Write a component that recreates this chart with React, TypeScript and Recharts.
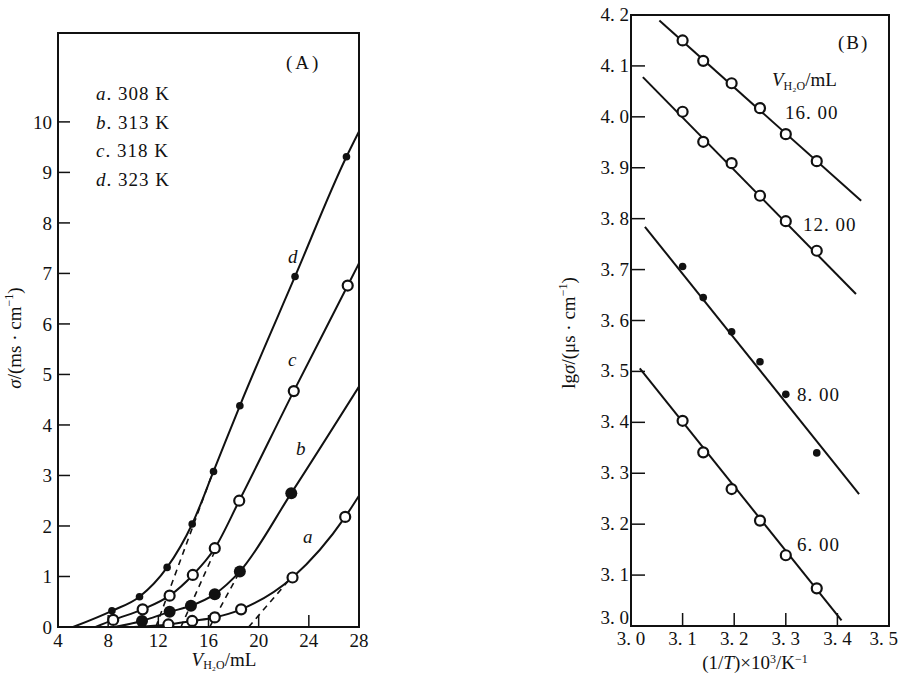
import React from 'react';
import { ComposedChart, Line, Scatter, XAxis, YAxis, ReferenceArea } from 'recharts';

const SERIF = '"Liberation Serif", "DejaVu Serif", serif';
const INK = '#111';

// ---- Panel A: sigma vs V(H2O) at four temperatures ----
const volTicks = [4, 8, 12, 16, 20, 24, 28];
const sigmaTicks = [0, 1, 2, 3, 4, 5, 6, 7, 8, 9, 10];

const aVol = [12.8, 14.7, 16.5, 18.6, 22.7, 26.9];
const aSigma = [0.05, 0.12, 0.19, 0.35, 0.98, 2.18];
const bVol = [10.7, 12.9, 14.6, 16.5, 18.5, 22.6];
const bSigma = [0.12, 0.3, 0.42, 0.65, 1.1, 2.65];
const cVol = [8.4, 10.75, 12.9, 14.75, 16.5, 18.45, 22.8, 27.1];
const cSigma = [0.14, 0.35, 0.62, 1.03, 1.56, 2.5, 4.67, 6.76];
const dVol = [8.3, 10.5, 12.7, 14.7, 16.4, 18.5, 22.9, 27.0];
const dSigma = [0.32, 0.6, 1.18, 2.04, 3.08, 4.38, 6.94, 9.31];

// where each smooth curve leaves the axis and where it meets the right frame
const curveStart = { a: [10.0, 0], b: [8.5, 0], c: [7.0, 0], d: [5.2, 0] };
const curveEnd = { a: [28, 2.6], b: [28, 4.76], c: [28, 7.2], d: [28, 9.81] };

// dashed extrapolations of the linear parts
const tanA = { x: [19.2, 22.5], y: [0, 0.95] };
const tanB = { x: [16.1, 18.5], y: [0, 1.1] };
const tanC = { x: [13.8, 16.5], y: [0, 1.5] };
const tanD = { x: [11.8, 16.4], y: [0, 3.1] };

// ---- Panel B: lg sigma vs 1/T ----
const invTTicks = [3.0, 3.1, 3.2, 3.3, 3.4, 3.5];
const lgTicks = [3.0, 3.1, 3.2, 3.3, 3.4, 3.5, 3.6, 3.7, 3.8, 3.9, 4.0, 4.1, 4.2];

const invT = [3.1, 3.14, 3.195, 3.25, 3.3, 3.36];
const lg16 = [4.15, 4.11, 4.066, 4.017, 3.966, 3.913];
const lg12 = [4.01, 3.951, 3.909, 3.845, 3.795, 3.737];
const lg8 = [3.706, 3.645, 3.578, 3.519, 3.455, 3.34];
const lg6 = [3.403, 3.341, 3.269, 3.207, 3.139, 3.074];

const fit16 = { x: [3.055, 3.446], y: [4.189, 3.835] };
const fit12 = { x: [3.023, 3.436], y: [4.078, 3.652] };
const fit8 = { x: [3.027, 3.442], y: [3.784, 3.259] };
const fit6 = { x: [3.017, 3.408], y: [3.506, 3.011] };

const legendRows = [
  ['a', '308 K'],
  ['b', '313 K'],
  ['c', '318 K'],
  ['d', '323 K'],
];

const pts = (xs: number[], ys: number[]) => xs.map((x, i) => ({ x, y: ys[i] }));
const curve = (xs: number[], ys: number[], start: number[], end: number[]) => [
  { x: start[0], y: start[1] },
  ...pts(xs, ys),
  { x: end[0], y: end[1] },
];

const openDot = (r: number) => (p: any) =>
  <circle cx={p.cx} cy={p.cy} r={r} fill="#fff" stroke={INK} strokeWidth={2.2} />;
const fullDot = (r: number) => (p: any) => <circle cx={p.cx} cy={p.cy} r={r} fill={INK} />;

const tickStyle = { fontFamily: SERIF, fontSize: 19, fill: INK };
const axisLine = { stroke: INK, strokeWidth: 2 };
const tickLine = { stroke: INK, strokeWidth: 1.5 };
const cnNum = (v: number, d: number) => v.toFixed(d).replace('.', '. ');

// y ticks of panel B; the bottom one sits a little higher, clear of the x labels
const LgTick = (p: any) => {
  const v = p.payload.value;
  return (
    <text x={p.x} y={p.y} dy={v <= 3.0 ? -2 : 6} textAnchor="end" fontFamily={SERIF} fontSize={19} fill={INK}>
      {cnNum(v, 1)}
    </text>
  );
};

const SigmaYLabel = () => (
  <text transform="translate(21,338) rotate(-90)" textAnchor="middle" fontFamily={SERIF} fontSize={19} fill={INK}>
    <tspan fontStyle="italic">σ</tspan>/(ms · cm<tspan dy={-8} fontSize={12}>−1</tspan>
    <tspan dy={8}>)</tspan>
  </text>
);

const VolXLabel = () => (
  <text x={224} y={666} textAnchor="middle" fontFamily={SERIF} fontSize={19} fill={INK}>
    <tspan fontStyle="italic">V</tspan>
    <tspan fontSize={12} dy={3}>H₂O</tspan>
    <tspan dy={-3}>/mL</tspan>
  </text>
);

const LgYLabel = () => (
  <text transform="translate(95,333) rotate(-90)" textAnchor="middle" fontFamily={SERIF} fontSize={19} fill={INK}>
    lg<tspan fontStyle="italic">σ</tspan>/(μs · cm<tspan dy={-8} fontSize={12}>−1</tspan>
    <tspan dy={8}>)</tspan>
  </text>
);

const InvTXLabel = () => (
  <text x={275} y={669} textAnchor="middle" fontFamily={SERIF} fontSize={19} fill={INK}>
    (1/<tspan fontStyle="italic">T</tspan>)×10<tspan dy={-6} fontSize={12}>3</tspan>
    <tspan dy={6}>/K</tspan>
    <tspan dy={-6} fontSize={12}>−1</tspan>
  </text>
);

const note = (left: number, top: number, extra: React.CSSProperties = {}): React.CSSProperties => ({
  position: 'absolute',
  left,
  top,
  fontFamily: SERIF,
  fontSize: 19,
  color: INK,
  lineHeight: 1,
  whiteSpace: 'nowrap',
  ...extra,
});

function PanelA() {
  return (
    <ComposedChart width={380} height={675} margin={{ top: 33, right: 21, bottom: 0, left: 0 }}>
      <XAxis
        type="number"
        dataKey="x"
        domain={[4, 28]}
        ticks={volTicks}
        height={48}
        tickSize={-12}
        tickMargin={19}
        axisLine={axisLine}
        tickLine={tickLine}
        tick={tickStyle}
        allowDataOverflow
        label={{ content: VolXLabel }}
      />
      <YAxis
        type="number"
        dataKey="y"
        domain={[0, 11.76]}
        ticks={sigmaTicks}
        width={58}
        tickSize={-12}
        tickMargin={18}
        axisLine={axisLine}
        tickLine={tickLine}
        tick={tickStyle}
        allowDataOverflow
        label={{ content: SigmaYLabel }}
      />
      <ReferenceArea x1={4} x2={28} y1={0} y2={11.76} fill="none" stroke={INK} strokeWidth={2} ifOverflow="visible" />

      <Line data={pts(tanA.x, tanA.y)} dataKey="y" type="linear" stroke={INK} strokeWidth={1.6} strokeDasharray="6 5" dot={false} isAnimationActive={false} />
      <Line data={pts(tanB.x, tanB.y)} dataKey="y" type="linear" stroke={INK} strokeWidth={1.6} strokeDasharray="6 5" dot={false} isAnimationActive={false} />
      <Line data={pts(tanC.x, tanC.y)} dataKey="y" type="linear" stroke={INK} strokeWidth={1.6} strokeDasharray="6 5" dot={false} isAnimationActive={false} />
      <Line data={pts(tanD.x, tanD.y)} dataKey="y" type="linear" stroke={INK} strokeWidth={1.6} strokeDasharray="6 5" dot={false} isAnimationActive={false} />

      <Line data={curve(aVol, aSigma, curveStart.a, curveEnd.a)} dataKey="y" type="monotone" stroke={INK} strokeWidth={2} dot={false} isAnimationActive={false} />
      <Line data={curve(bVol, bSigma, curveStart.b, curveEnd.b)} dataKey="y" type="monotone" stroke={INK} strokeWidth={2} dot={false} isAnimationActive={false} />
      <Line data={curve(cVol, cSigma, curveStart.c, curveEnd.c)} dataKey="y" type="monotone" stroke={INK} strokeWidth={2} dot={false} isAnimationActive={false} />
      <Line data={curve(dVol, dSigma, curveStart.d, curveEnd.d)} dataKey="y" type="monotone" stroke={INK} strokeWidth={2} dot={false} isAnimationActive={false} />

      <Scatter data={pts(aVol, aSigma)} shape={openDot(5)} isAnimationActive={false} />
      <Scatter data={pts(bVol, bSigma)} shape={fullDot(6)} isAnimationActive={false} />
      <Scatter data={pts(cVol, cSigma)} shape={openDot(5)} isAnimationActive={false} />
      <Scatter data={pts(dVol, dSigma)} shape={fullDot(3.8)} isAnimationActive={false} />
    </ComposedChart>
  );
}

function PanelB() {
  return (
    <ComposedChart width={418} height={675} margin={{ top: 15, right: 9, bottom: 0, left: 0 }}>
      <XAxis
        type="number"
        dataKey="x"
        domain={[3.0, 3.5]}
        ticks={invTTicks}
        height={49}
        tickSize={-13}
        tickMargin={19}
        axisLine={axisLine}
        tickLine={tickLine}
        tick={tickStyle}
        tickFormatter={(v: number) => cnNum(v, 1)}
        allowDataOverflow
        label={{ content: InvTXLabel }}
      />
      <YAxis
        type="number"
        dataKey="y"
        domain={[3.0, 4.2]}
        ticks={lgTicks}
        width={151}
        tickSize={-14}
        tickMargin={16}
        axisLine={axisLine}
        tickLine={tickLine}
        tick={LgTick}
        allowDataOverflow
        label={{ content: LgYLabel }}
      />
      <ReferenceArea x1={3.0} x2={3.5} y1={3.0} y2={4.2} fill="none" stroke={INK} strokeWidth={2} ifOverflow="visible" />

      <Line data={pts(fit16.x, fit16.y)} dataKey="y" type="linear" stroke={INK} strokeWidth={2} dot={false} isAnimationActive={false} />
      <Line data={pts(fit12.x, fit12.y)} dataKey="y" type="linear" stroke={INK} strokeWidth={2} dot={false} isAnimationActive={false} />
      <Line data={pts(fit8.x, fit8.y)} dataKey="y" type="linear" stroke={INK} strokeWidth={2} dot={false} isAnimationActive={false} />
      <Line data={pts(fit6.x, fit6.y)} dataKey="y" type="linear" stroke={INK} strokeWidth={2} dot={false} isAnimationActive={false} />

      <Scatter data={pts(invT, lg16)} shape={openDot(5)} isAnimationActive={false} />
      <Scatter data={pts(invT, lg12)} shape={openDot(5)} isAnimationActive={false} />
      <Scatter data={pts(invT, lg8)} shape={fullDot(3.8)} isAnimationActive={false} />
      <Scatter data={pts(invT, lg6)} shape={openDot(5)} isAnimationActive={false} />
    </ComposedChart>
  );
}

export default function App() {
  return (
    <div style={{ position: 'absolute', left: 0, top: 0, width: 898, height: 675, background: '#fff' }}>
      <div style={{ position: 'absolute', left: 0, top: 0 }}>
        <PanelA />
      </div>
      <div style={{ position: 'absolute', left: 480, top: 0 }}>
        <PanelB />
      </div>

      {/* panel A annotations */}
      <div style={note(286, 53, { letterSpacing: 3 })}>(A)</div>
      {legendRows.map(([k, t], i) => (
        <div key={k} style={note(96, 84 + i * 28.5, { letterSpacing: 1 })}>
          <i>{k}</i>. {t}
        </div>
      ))}
      <div style={note(288, 247, { fontStyle: 'italic' })}>d</div>
      <div style={note(288, 350, { fontStyle: 'italic' })}>c</div>
      <div style={note(296, 439, { fontStyle: 'italic' })}>b</div>
      <div style={note(303, 527, { fontStyle: 'italic' })}>a</div>

      {/* panel B annotations */}
      <div style={note(838, 33, { letterSpacing: 2 })}>(B)</div>
      <div style={note(772, 70)}>
        <i>V</i>
        <span style={{ fontSize: 12, verticalAlign: -4 }}>H₂O</span>/mL
      </div>
      <div style={note(785, 103, { letterSpacing: 1 })}>16. 00</div>
      <div style={note(803, 215, { letterSpacing: 1 })}>12. 00</div>
      <div style={note(797, 385, { letterSpacing: 1 })}>8. 00</div>
      <div style={note(797, 535, { letterSpacing: 1 })}>6. 00</div>
    </div>
  );
}
